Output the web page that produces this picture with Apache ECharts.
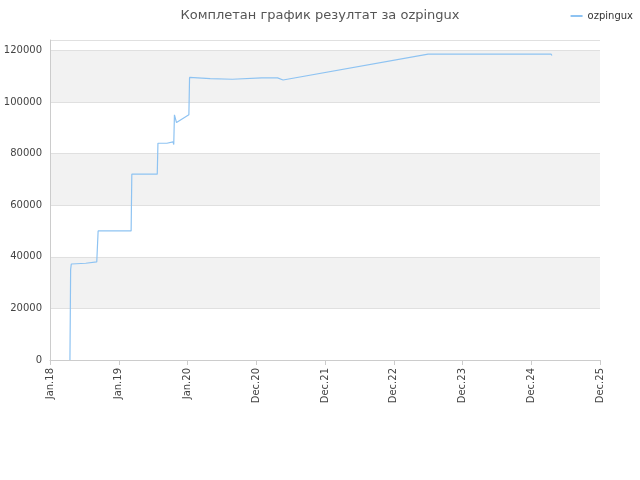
<!DOCTYPE html>
<html>
<head>
<meta charset="UTF-8">
<title>ozpingux</title>
<script src="https://cdn.jsdelivr.net/npm/echarts@6/dist/echarts.min.js"></script>
</head>
<body style="margin:0">
<div id="chart" style="width:640px; height:480px;"></div>
<script>
    var tickLabels = ['Jan.18', 'Jan.19', 'Jan.20', 'Dec.20', 'Dec.21', 'Dec.22', 'Dec.23', 'Dec.24', 'Dec.25'];
    // x in tick units (0 = Jan.18 ... 8 = Dec.25)
    var xs = [0.29, 0.30, 0.31, 0.32, 0.52, 0.53, 0.68, 0.69, 0.70, 1.18, 1.19, 1.56, 1.57, 1.70, 1.71, 1.79, 1.80, 1.81, 1.84, 2.02, 2.03, 2.33, 2.34, 2.65, 2.66, 3.08, 3.09, 3.31, 3.39, 5.50, 7.29, 7.30];
    var scores = [0, 35000, 37200, 37400, 37500, 37900, 38000, 44000, 50000, 50000, 72000, 72000, 84000, 84000, 84500, 84500, 83500, 95000, 92000, 95000, 109500, 109000, 108800, 108800, 109200, 109300, 109500, 109300, 108500, 118500, 118500, 118000];

    var points = xs.map(function (x, i) { return [x, scores[i]]; });

    var chart = echarts.init(document.getElementById('chart'), null, {renderer: 'canvas'});
    chart.setOption({
        animation: false,
        title: {
            text: 'Комплетан график резултат за ozpingux',
            left: 'center', top: 4,
            textStyle: {fontSize: 13, fontWeight: 'normal', color: '#555', fontFamily: 'DejaVu Sans'}
        },
        legend: {
            right: 2, top: 6,
            itemWidth: 12, itemHeight: 2,
            textStyle: {fontSize: 10, color: '#333', fontFamily: 'DejaVu Sans'},
            data: [{name: 'ozpingux', icon: 'rect'}]
        },
        grid: {left: 50, right: 40, top: 40, bottom: 120, containLabel: false, outerBoundsMode: 'none'},
        xAxis: {
            type: 'value', min: 0, max: 8, interval: 1,
            axisLine: {lineStyle: {color: '#ccc'}},
            axisTick: {show: true, lineStyle: {color: '#ccc'}},
            splitLine: {show: false},
            axisLabel: {
                rotate: 90, color: '#444', fontSize: 10, fontFamily: 'DejaVu Sans',
                formatter: function (v) { return tickLabels[Math.round(v)]; }
            }
        },
        yAxis: {
            type: 'value', min: 0, max: 124000, interval: 20000,
            axisLine: {show: true, lineStyle: {color: '#ccc'}},
            axisTick: {show: false},
            axisLabel: {color: '#444', fontSize: 10, fontFamily: 'DejaVu Sans',
                showMaxLabel: false, formatter: function (v) { return String(v); }},
            splitLine: {lineStyle: {color: '#e0e0e0'}},
            splitArea: {show: true, areaStyle: {color: ['#ffffff', '#f2f2f2']}}
        },
        series: [{
            name: 'ozpingux',
            type: 'line',
            data: points,
            showSymbol: false,
            lineStyle: {width: 1.2, color: '#8ec3f2'},
            itemStyle: {color: '#8ec3f2'}
        }]
    });
</script>
</body>
</html>
